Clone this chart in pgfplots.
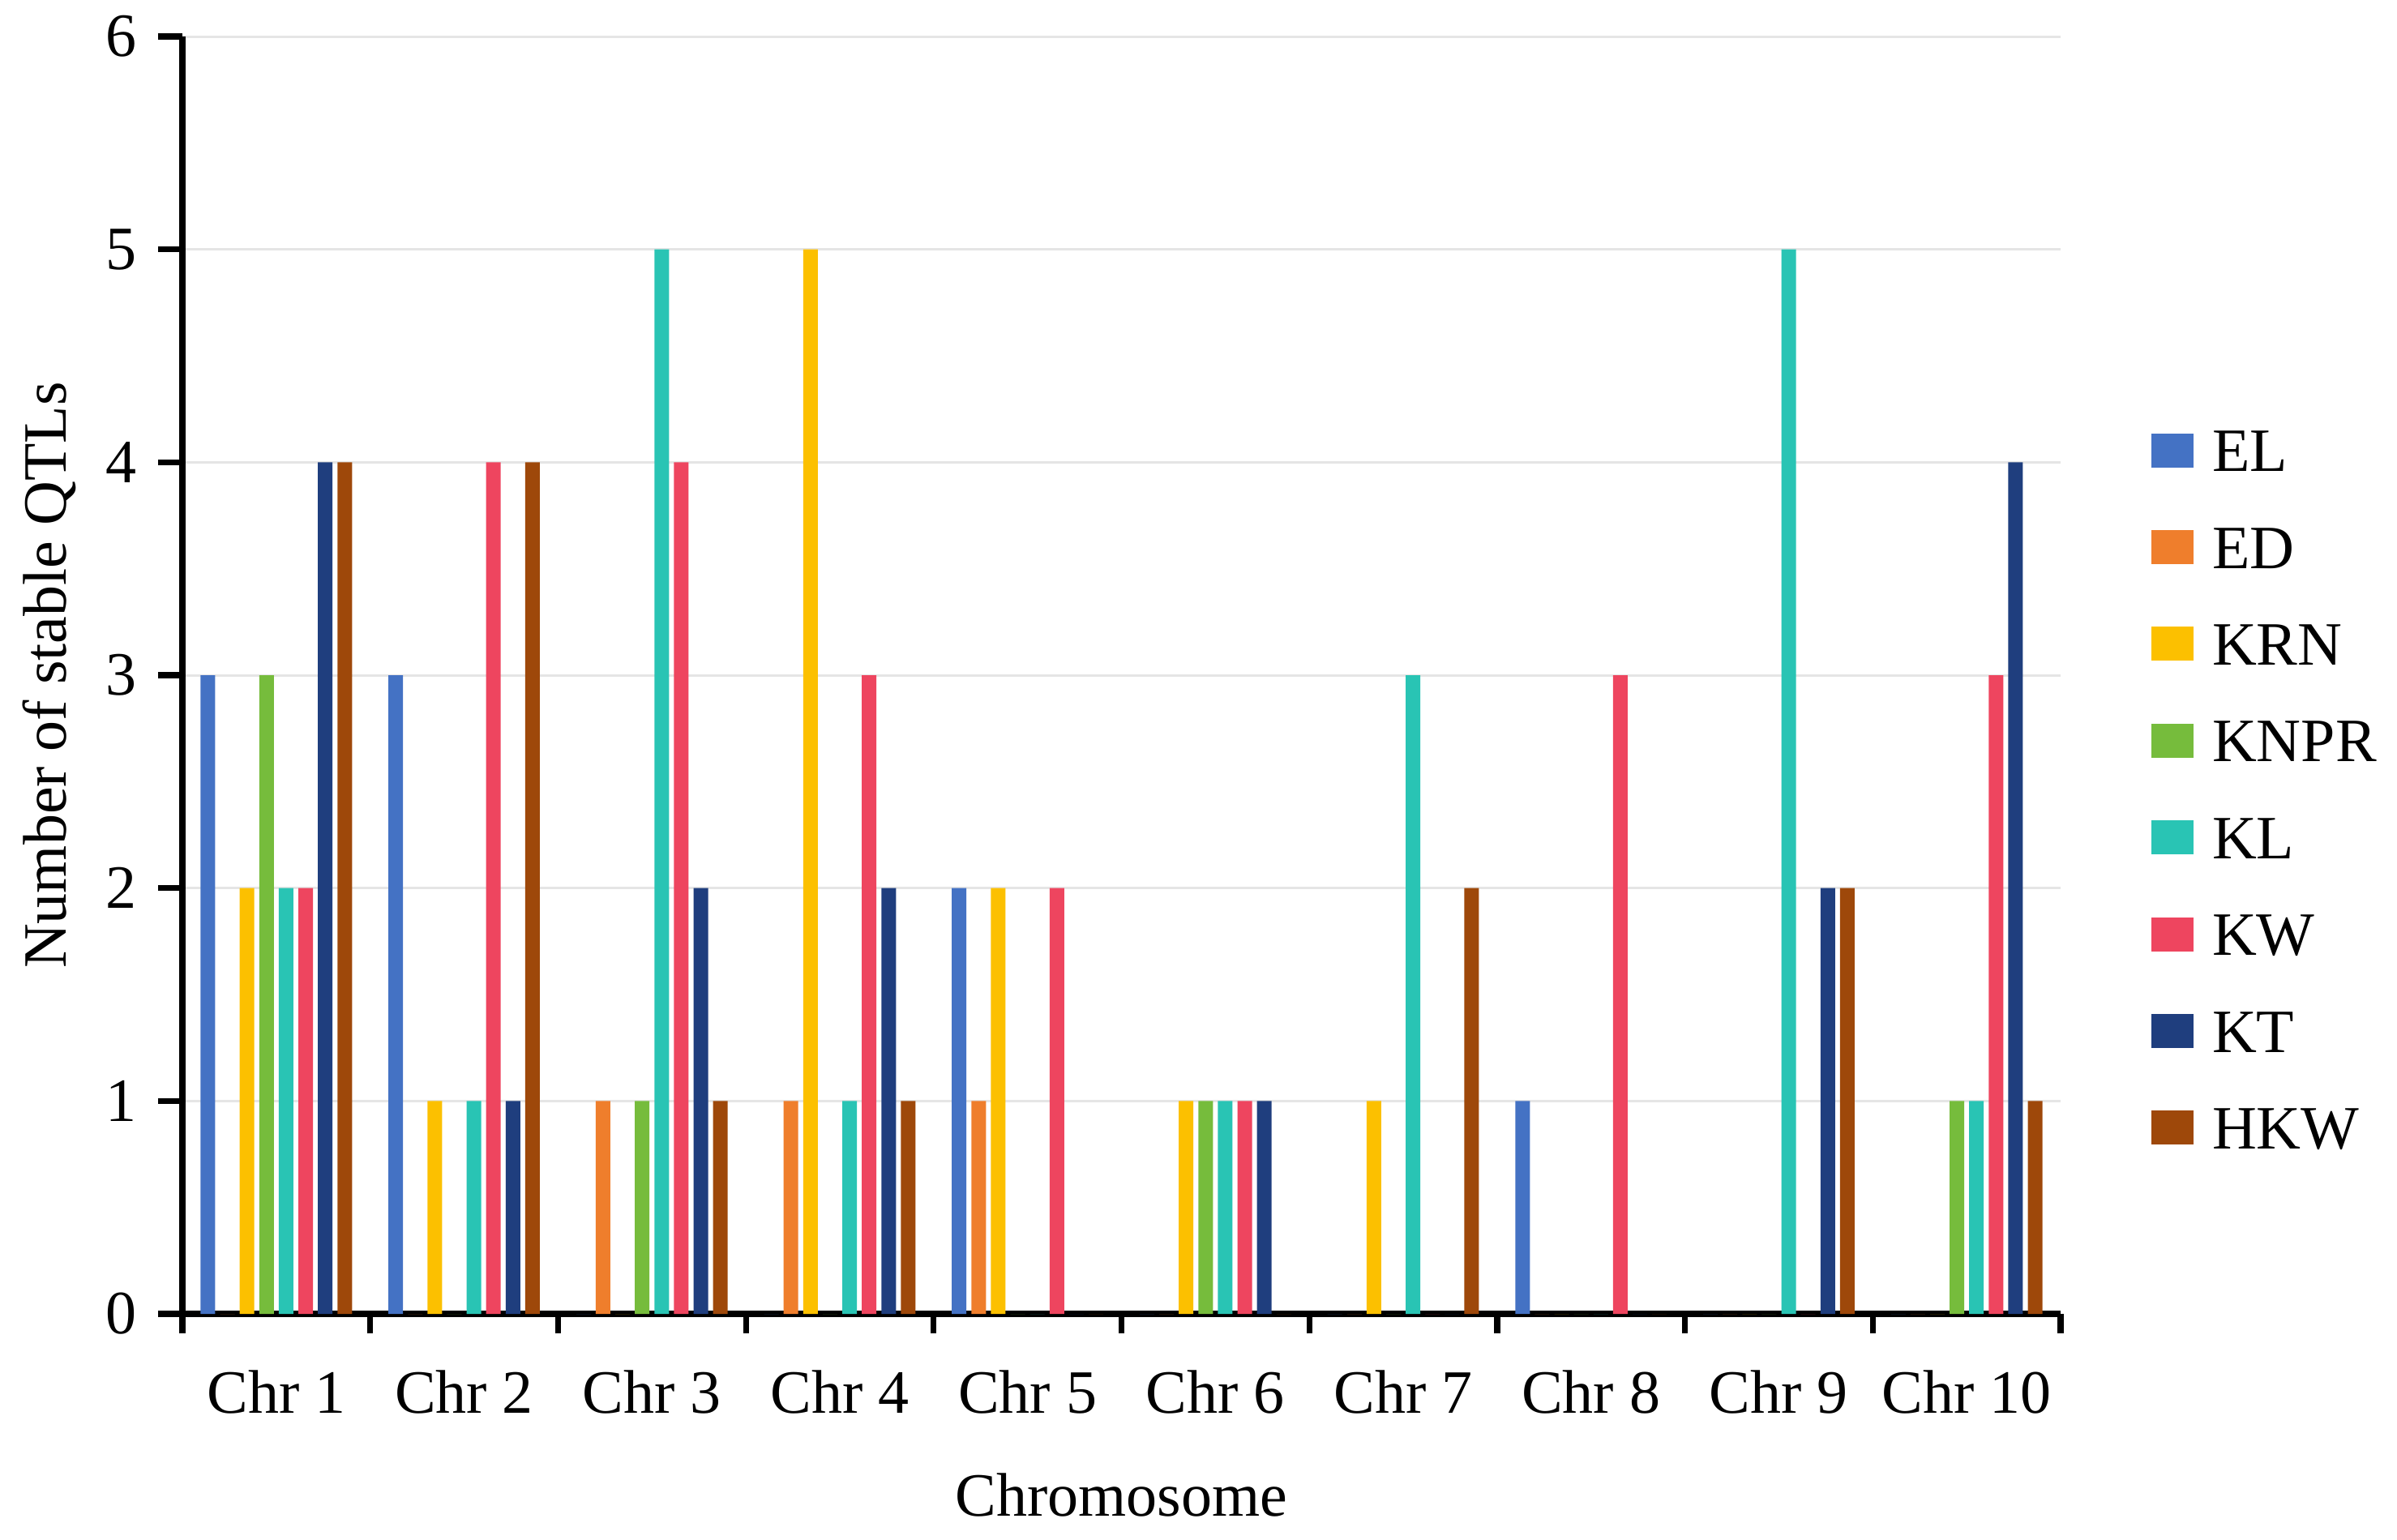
\documentclass[border=0pt]{standalone}
\usepackage{fontspec}
\setmainfont{Liberation Serif}
\usepackage{pgfplots}
\pgfplotsset{compat=1.18}

\definecolor{cEL}{HTML}{4472C4}
\definecolor{cED}{HTML}{EF7E2C}
\definecolor{cKRN}{HTML}{FCC000}
\definecolor{cKNPR}{HTML}{76BC3C}
\definecolor{cKL}{HTML}{29C4B4}
\definecolor{cKW}{HTML}{EE455F}
\definecolor{cKT}{HTML}{1F3E7E}
\definecolor{cHKW}{HTML}{9E480A}

\begin{document}
\begin{tikzpicture}
\useasboundingbox (-56.25pt,-69.5pt) rectangle (683pt,405.25pt);
\begin{axis}[
  at={(0,0)}, anchor=south west,
  scale only axis, width=579.25pt, height=394pt,
  font=\fontsize{19}{23}\selectfont,
  /pgf/number format/assume math mode=true,
  xmin=-0.5, xmax=9.5, ymin=0, ymax=6,
  ytick={0,...,6},
  xtick={0,...,9},
  xticklabels={Chr 1,Chr 2,Chr 3,Chr 4,Chr 5,Chr 6,Chr 7,Chr 8,Chr 9,Chr 10},
  minor xtick={-0.5,0.5,...,9.5},
  axis x line*=bottom, axis y line*=left,
  axis line style={line width=1.8pt, black},
  tick align=outside,
  major tick length=7.5pt, minor tick length=6pt,
  major x tick style={draw=none},
  minor x tick style={line width=1.8pt, black},
  major y tick style={line width=1.8pt, black},
  ymajorgrids, grid style={line width=0.75pt, black!10},
  ybar=1.53pt, bar width=4.5pt,
  xticklabel style={anchor=base, yshift=-23.2pt},
  yticklabel style={anchor=east, xshift=-3pt},
  xlabel={Chromosome}, ylabel={Number of stable QTLs},
  xlabel style={at={([yshift=-62.25pt]axis description cs:0.5,0)}, anchor=base},
  ylabel style={at={([xshift=-35.75pt]axis description cs:0,0.5)}, anchor=base, rotate=0},
  legend image code/.code={
    \path (0pt,0pt) rectangle (13pt,0pt);
    \fill[#1, overlay] (0pt,-5.25pt) rectangle (13pt,5.25pt);},
  legend style={at={(axis description cs:1.048,0.693)}, anchor=north west,
    draw=none, fill=none, inner sep=0pt, row sep=16.85pt, column sep=5.75pt,
    font=\fontsize{19}{23}\selectfont,
    nodes={inner sep=0pt, text height=13pt, text depth=0pt}},
  legend cell align=left,
]
\addplot[fill=cEL, draw=none] coordinates {(0,3) (1,3) (2,0) (3,0) (4,2) (5,0) (6,0) (7,1) (8,0) (9,0)};
\addplot[fill=cED, draw=none] coordinates {(0,0) (1,0) (2,1) (3,1) (4,1) (5,0) (6,0) (7,0) (8,0) (9,0)};
\addplot[fill=cKRN, draw=none] coordinates {(0,2) (1,1) (2,0) (3,5) (4,2) (5,1) (6,1) (7,0) (8,0) (9,0)};
\addplot[fill=cKNPR, draw=none] coordinates {(0,3) (1,0) (2,1) (3,0) (4,0) (5,1) (6,0) (7,0) (8,0) (9,1)};
\addplot[fill=cKL, draw=none] coordinates {(0,2) (1,1) (2,5) (3,1) (4,0) (5,1) (6,3) (7,0) (8,5) (9,1)};
\addplot[fill=cKW, draw=none] coordinates {(0,2) (1,4) (2,4) (3,3) (4,2) (5,1) (6,0) (7,3) (8,0) (9,3)};
\addplot[fill=cKT, draw=none] coordinates {(0,4) (1,1) (2,2) (3,2) (4,0) (5,1) (6,0) (7,0) (8,2) (9,4)};
\addplot[fill=cHKW, draw=none] coordinates {(0,4) (1,4) (2,1) (3,1) (4,0) (5,0) (6,2) (7,0) (8,2) (9,1)};
\legend{EL,ED,KRN,KNPR,KL,KW,KT,HKW}
\end{axis}
\end{tikzpicture}
\end{document}
